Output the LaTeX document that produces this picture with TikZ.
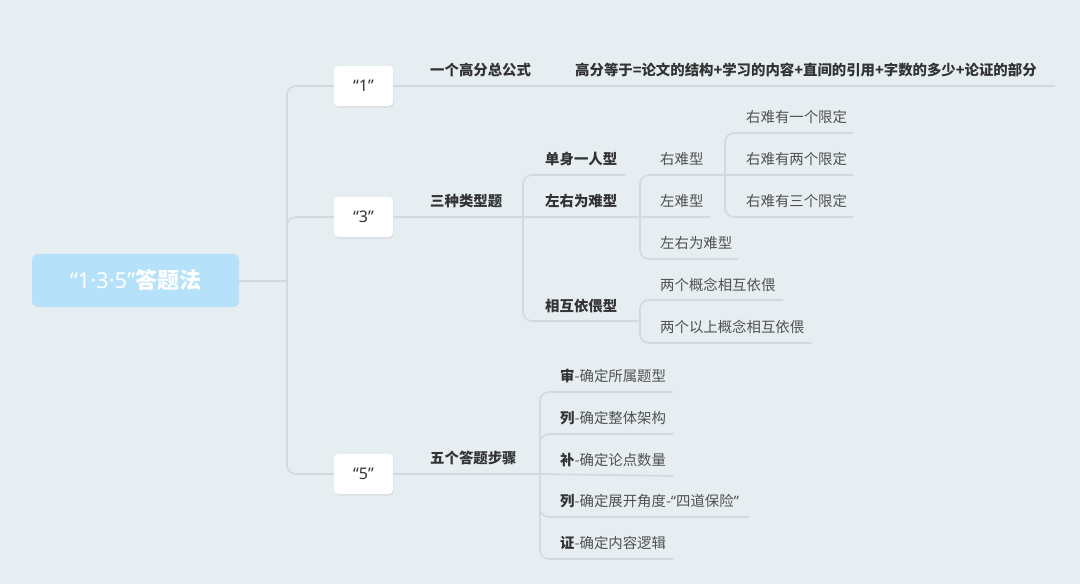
\documentclass[tikz,border=0pt]{standalone}
\usepackage{fontspec}
\setmainfont{Noto Sans CJK SC}
\newfontfamily\lat{Noto Sans}
\usetikzlibrary{shadows}
\definecolor{bg}{HTML}{E7EEF2}
\definecolor{ln}{HTML}{D3D9DD}
\definecolor{tx}{HTML}{333333}
\definecolor{lf}{HTML}{505050}
\definecolor{rootc}{HTML}{B5E1FA}
\tikzset{
 conn/.style={draw=ln,line width=1.6pt,rounded corners=9pt},
 lab/.style={anchor=base west,inner sep=0pt,text=tx,font=\fontsize{14.4}{16}\selectfont\bfseries},
 leaf/.style={anchor=base west,inner sep=0pt,text=lf,font=\fontsize{14.4}{16}\selectfont},
 numbox/.style={draw=none,fill=white,rounded corners=4pt,minimum width=59pt,minimum height=40pt,text=tx,
   font=\fontsize{16}{18}\selectfont\bfseries\lat,drop shadow={shadow xshift=0.5pt,shadow yshift=-1.5pt,opacity=0.15}},
}
\begin{document}
\begin{tikzpicture}[x=1pt,y=-1pt]
\fill[bg] (0,0) rectangle (1080,584);
\useasboundingbox (0,0) rectangle (1080,584);
% connectors
\draw[conn] (239,281) -- (287,281);
\draw[conn] (287,281) |- (334,86);
\draw[conn] (287,281) |- (334,217);
\draw[conn] (287,281) |- (334,474);
\draw[conn] (393,86) -- (1055,86);
\draw[conn] (393,217) -- (523,217);
\draw[conn] (523,217) |- (625,175);
\draw[conn] (523,217) -- (710,217);
\draw[conn] (523,217) |- (640,321);
\draw[conn] (640,217) |- (725,175);
\draw[conn] (640,217) |- (738,259);
\draw[conn] (725,175) |- (853,133);
\draw[conn] (725,175) -- (853,175);
\draw[conn] (725,175) |- (853,217);
\draw[conn] (640,321) |- (783,300);
\draw[conn] (640,321) |- (812,343);
\draw[conn] (393,474) -- (540,474);
\draw[conn] (540,474) |- (673,392);
\draw[conn] (540,474) |- (673,434);
\draw[conn] (540,474) -- (673,476);
\draw[conn] (540,474) |- (749,517);
\draw[conn] (540,474) |- (673,559);
% root
\node[fill=rootc,rounded corners=6pt,minimum width=207pt,minimum height=53pt,text=white,
 font=\fontsize{22}{24}\selectfont\bfseries] (root) at (135.5,280.5) {{\lat “1·3·5”}答题法};
\node[numbox] (n1) at (363.5,86) {“1”};
\node[numbox] (n3) at (363.5,217) {“3”};
\node[numbox] (n5) at (363.5,474) {“5”};
% level 2
\node[lab] (a1) at (430,75) {一个高分总公式};
\node[lab] (a2) at (575,75) {高分等于=论文的结构+学习的内容+直间的引用+字数的多少+论证的部分};
\node[lab] (b) at (430,206) {三种类型题};
\node[lab] (b1) at (545,164) {单身一人型};
\node[lab] (b2) at (545,206) {左右为难型};
\node[lab] (b3) at (545,311) {相互依偎型};
\node[leaf] (c1) at (660,164) {右难型};
\node[leaf] (c2) at (660,206) {左难型};
\node[leaf] (c3) at (660,248) {左右为难型};
\node[leaf] (d1) at (746,122) {右难有一个限定};
\node[leaf] (d2) at (746,164) {右难有两个限定};
\node[leaf] (d3) at (746,206) {右难有三个限定};
\node[leaf] (e1) at (660,290) {两个概念相互依偎};
\node[leaf] (e2) at (660,332) {两个以上概念相互依偎};
\node[lab] (f) at (430,463) {五个答题步骤};
\node[leaf] (f1) at (560,381) {\textbf{\color{tx}审}-确定所属题型};
\node[leaf] (f2) at (560,423) {\textbf{\color{tx}列}-确定整体架构};
\node[leaf] (f3) at (560,465) {\textbf{\color{tx}补}-确定论点数量};
\node[leaf] (f4) at (560,506) {\textbf{\color{tx}列}-确定展开角度-{\lat “}四道保险{\lat ”}};
\node[leaf] (f5) at (560,548) {\textbf{\color{tx}证}-确定内容逻辑};
\end{tikzpicture}
\end{document}
